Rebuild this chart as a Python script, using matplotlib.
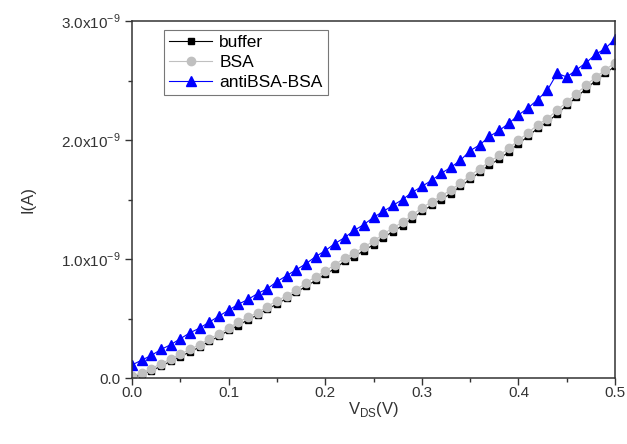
import matplotlib
matplotlib.use("Agg")
import matplotlib.pyplot as plt
from matplotlib.ticker import FixedLocator, FuncFormatter

plt.rcParams['font.family'] = ['Liberation Sans', 'DejaVu Sans']
plt.rcParams['mathtext.fontset'] = 'custom'
plt.rcParams['mathtext.rm'] = 'Liberation Sans'

# V_DS sweep (V), 0.01 V step
vds = [i / 100 for i in range(51)]

# currents in units of 1e-9 A
buffer_i = [0.00, 0.03, 0.06, 0.10, 0.14, 0.18, 0.22, 0.26, 0.31, 0.35,
            0.40, 0.44, 0.49, 0.53, 0.58, 0.62, 0.67, 0.72, 0.77, 0.82,
            0.87, 0.92, 0.98, 1.02, 1.07, 1.12, 1.18, 1.23, 1.28, 1.34,
            1.40, 1.45, 1.50, 1.55, 1.61, 1.67, 1.73, 1.79, 1.84, 1.90,
            1.97, 2.03, 2.10, 2.15, 2.22, 2.29, 2.36, 2.43, 2.50, 2.56,
            2.62]
bsa_i = [0.02, 0.04, 0.08, 0.12, 0.16, 0.20, 0.24, 0.28, 0.33, 0.37,
         0.42, 0.47, 0.51, 0.55, 0.60, 0.65, 0.69, 0.74, 0.80, 0.85,
         0.90, 0.95, 1.01, 1.05, 1.10, 1.15, 1.21, 1.26, 1.31, 1.37,
         1.43, 1.48, 1.53, 1.58, 1.64, 1.70, 1.76, 1.82, 1.87, 1.93,
         2.00, 2.06, 2.13, 2.18, 2.25, 2.32, 2.39, 2.46, 2.53, 2.59,
         2.65]
anti_i = [0.11, 0.15, 0.19, 0.24, 0.28, 0.33, 0.38, 0.42, 0.47, 0.52,
          0.57, 0.62, 0.66, 0.71, 0.75, 0.81, 0.86, 0.91, 0.96, 1.02,
          1.07, 1.13, 1.18, 1.24, 1.29, 1.35, 1.40, 1.45, 1.50, 1.56,
          1.61, 1.66, 1.72, 1.77, 1.83, 1.91, 1.96, 2.03, 2.08, 2.14,
          2.21, 2.27, 2.34, 2.42, 2.56, 2.53, 2.59, 2.65, 2.72, 2.77,
          2.85]

x_ticks = [0.0, 0.1, 0.2, 0.3, 0.4, 0.5]
x_minor = [0.05, 0.15, 0.25, 0.35, 0.45]
y_ticks = [0.0, 1e-9, 2e-9, 3e-9]
y_minor = [0.5e-9, 1.5e-9, 2.5e-9]

fig = plt.figure(figsize=(6.27, 4.44), dpi=100)
ax = fig.add_axes([0.2105, 0.1486, 0.7705, 0.8041])

scale = 1e-9
ax.plot(vds, [v * scale for v in buffer_i], color='black', lw=0.8,
        marker='s', ms=5, label='buffer')
ax.plot(vds, [v * scale for v in bsa_i], color='#c0c0c0', lw=0.8,
        marker='o', ms=6, label='BSA')
ax.plot(vds, [v * scale for v in anti_i], color='#0000ff', lw=0.8,
        marker='^', ms=7, label='antiBSA-BSA')

ax.set_xlim(0, 0.5)
ax.set_ylim(0, 3e-9)
ax.xaxis.set_major_locator(FixedLocator(x_ticks))
ax.xaxis.set_minor_locator(FixedLocator(x_minor))
ax.yaxis.set_major_locator(FixedLocator(y_ticks))
ax.yaxis.set_minor_locator(FixedLocator(y_minor))


def yfmt(v, pos):
    if abs(v) < 1e-15:
        return '0.0'
    return r'%.1fx10$^{\mathregular{-9}}$' % (v / 1e-9)


ax.yaxis.set_major_formatter(FuncFormatter(yfmt))
ax.xaxis.set_major_formatter(FuncFormatter(lambda v, p: '%.1f' % v))

for s in ax.spines.values():
    s.set_color('#333333')
    s.set_linewidth(1.1)
ax.tick_params(which='both', direction='out', colors='#333333',
               labelcolor='#333333', labelsize=11)
ax.tick_params(which='major', length=5, width=1.0)
ax.tick_params(axis='x', which='major', pad=1)
ax.tick_params(which='minor', length=3, width=1.0)
for lab in ax.get_yticklabels():
    lab.set_verticalalignment('center_baseline')

ax.set_xlabel(r'V$_{\mathregular{DS}}$(V)', fontsize=12, color='#333333', labelpad=0)
ax.set_ylabel('I(A)', fontsize=12, color='#333333', labelpad=18)

leg = ax.legend(loc='upper left', bbox_to_anchor=(0.055, 0.99), fontsize=12.5,
                frameon=True, fancybox=False, handlelength=2.5,
                borderpad=0.3, labelspacing=0.28, handletextpad=0.4,
                borderaxespad=0.3)
leg.get_frame().set_edgecolor('#555555')
leg.get_frame().set_linewidth(0.8)

fig.savefig('out.png', dpi=100)
